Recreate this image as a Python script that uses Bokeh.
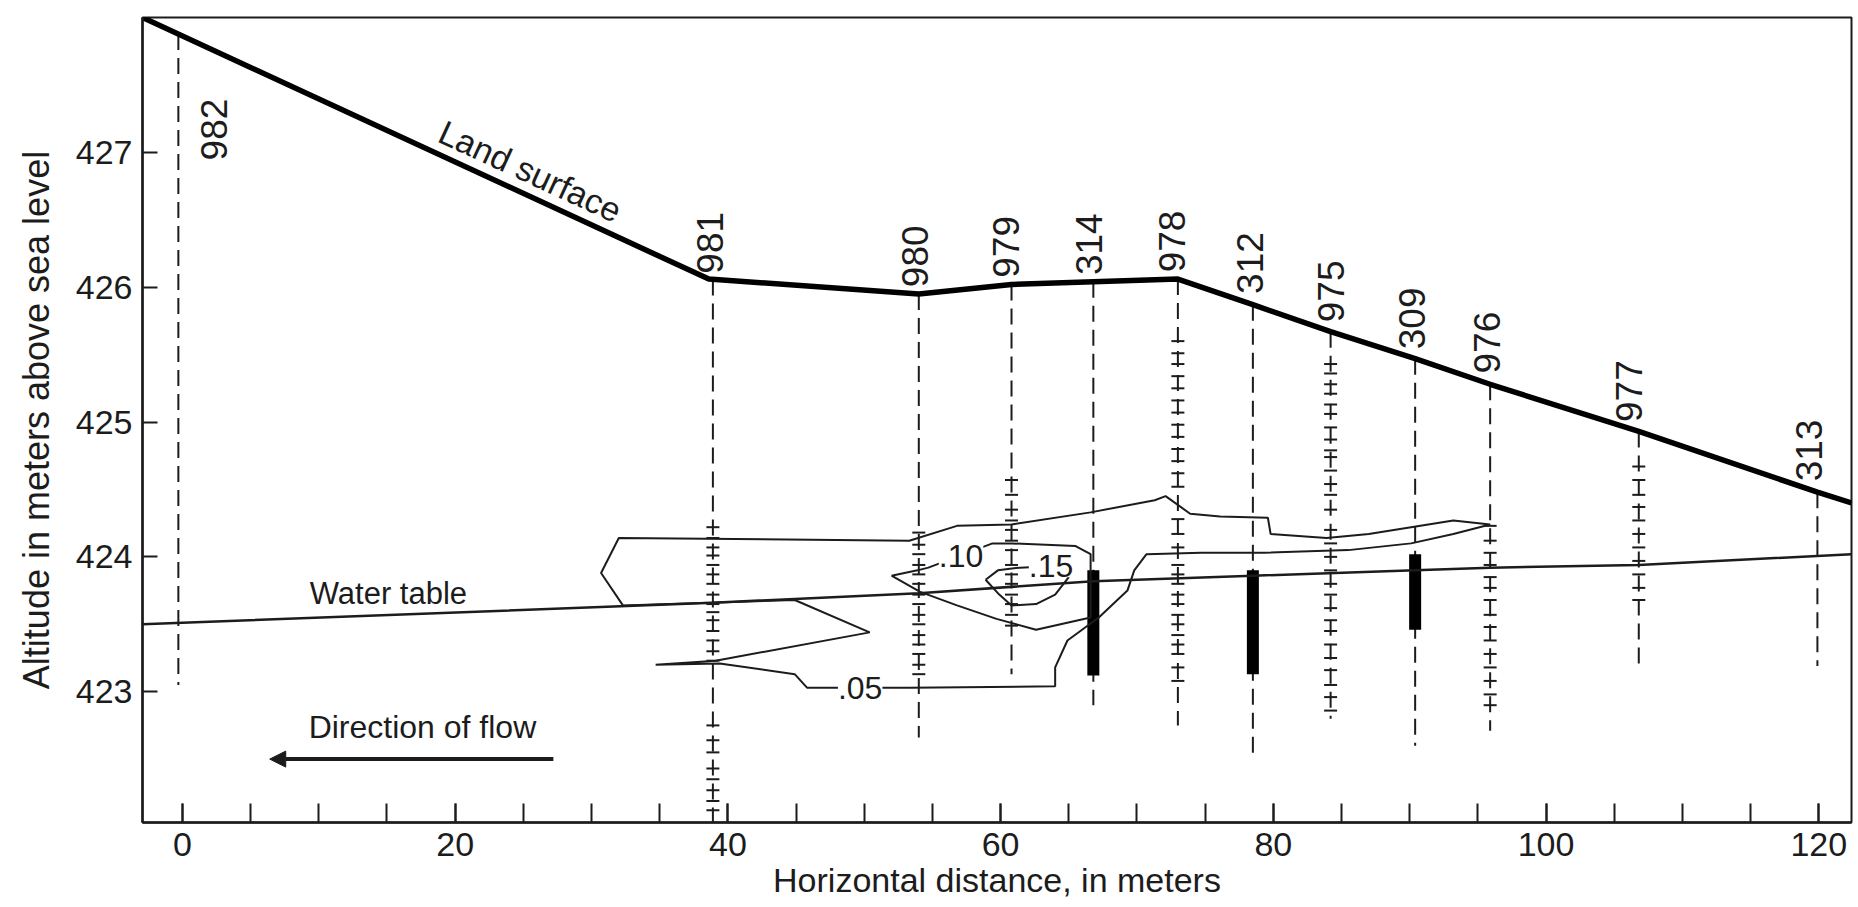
import numpy as np
from bokeh.plotting import figure
from bokeh.models import Range1d, FixedTicker, Label, Arrow, NormalHead, ColumnDataSource
from bokeh.core.properties import value
from bokeh.embed import file_html
from bokeh.resources import INLINE

FONT = "Liberation Sans"
INK = "#1c1c1c"

# ---------------- data ----------------
x_ticks = [0, 20, 40, 60, 80, 100, 120]
x_minor = [0, 5, 10, 15, 20, 25, 30, 35, 40, 45, 50, 55, 60, 65, 70, 75, 80, 85, 90, 95, 100, 105, 110, 115, 120]
y_ticks = [423, 424, 425, 426, 427]

# land surface profile (m, altitude)
land_x = [-2.93, 38.6, 54.0, 60.8, 66.8, 73.0, 78.5, 84.2, 90.4, 95.9, 106.8, 119.9, 122.4]
land_y = [428.0, 426.06, 425.95, 426.02, 426.04, 426.06, 425.87, 425.67, 425.47, 425.28, 424.93, 424.48, 424.40]

# water table
wt_x = [-2.93, 38.9, 54.0, 66.8, 78.5, 90.4, 95.9, 106.8, 122.4]
wt_y = [423.50, 423.66, 423.73, 423.82, 423.86, 423.90, 423.92, 423.94, 424.02]

# wells
well_names = ["982", "981", "980", "979", "314", "978", "312", "975", "309", "976", "977", "313"]
well_x = [-0.3, 38.9, 54.0, 60.8, 66.8, 73.0, 78.5, 84.2, 90.4, 95.9, 106.8, 119.9]
well_bottom = [423.05, 422.03, 422.66, 423.13, 422.90, 422.75, 422.52, 422.80, 422.60, 422.71, 423.18, 423.19]
label_x = [2.3, 38.7, 53.7, 60.4, 66.5, 72.6, 78.3, 84.2, 90.2, 95.7, 106.1, 119.3]
label_base = [426.94, 426.10, 426.00, 426.07, 426.09, 426.11, 425.95, 425.74, 425.54, 425.36, 425.00, 424.56]

# multilevel sampling points (altitudes) per well
samp_981 = [424.22, 424.14, 424.07, 424.01, 423.94, 423.87, 423.80, 423.72, 423.65, 423.59,
            423.53, 423.45, 423.38, 423.30, 423.23, 422.75, 422.64, 422.55, 422.43, 422.35,
            422.27, 422.19, 422.12]
samp_980 = [424.18, 424.09, 424.02, 423.94, 423.87, 423.80, 423.72, 423.65, 423.57, 423.50,
            423.42, 423.35, 423.28, 423.20, 423.13]
samp_979 = [424.57, 424.46, 424.35, 424.27, 424.20, 424.12, 424.05, 423.94, 423.87, 423.80,
            423.72, 423.65, 423.57, 423.49]
samp_978 = [425.60, 425.51, 425.43, 425.34, 425.25, 425.16, 425.07, 424.98, 424.89, 424.80,
            424.71, 424.62, 424.52, 424.28, 424.17, 424.07, 423.94, 423.87, 423.80, 423.72,
            423.65, 423.57, 423.50, 423.42, 423.35, 423.28, 423.18, 423.08]
samp_975 = [425.43, 425.36, 425.28, 425.21, 425.13, 425.06, 424.96, 424.87, 424.79, 424.74,
            424.64, 424.54, 424.46, 424.35, 424.20, 424.10, 424.00, 423.90, 423.80, 423.72,
            423.62, 423.53, 423.45, 423.35, 423.25, 423.16, 423.05, 422.96, 422.86]
samp_976 = [424.23, 424.12, 424.03, 423.94, 423.85, 423.77, 423.68, 423.57, 423.48, 423.38,
            423.28, 423.18, 423.08, 422.98, 422.90]
samp_977 = [424.67, 424.57, 424.46, 424.37, 424.27, 424.17, 424.07, 423.97, 423.87, 423.77, 423.68]

# screened intervals (thick bars)
bar_x = [66.8, 78.5, 90.4]
bar_top = [423.90, 423.90, 424.02]
bar_bottom = [423.12, 423.13, 423.46]

# concentration contours
c05_x = [34.7, 39.1, 50.4, 44.9, 32.3, 30.7, 32.0, 53.3, 56.8, 60.8, 66.6, 71.3, 72.1, 73.9,
         76.1, 79.6, 79.8, 83.9, 87.0, 90.1, 93.2, 95.9, 93.2, 90.1, 85.5, 79.3, 74.7, 70.7,
         69.8, 69.3, 67.2, 64.9, 64.0, 64.0, 53.3, 45.8, 44.9, 39.4, 34.7]
c05_y = [423.20, 423.23, 423.44, 423.68, 423.64, 423.88, 424.14, 424.12, 424.23, 424.24,
         424.33, 424.42, 424.45, 424.32, 424.30, 424.29, 424.17, 424.14, 424.17, 424.22,
         424.27, 424.24, 424.17, 424.10, 424.05, 424.03, 424.03, 424.02, 423.90, 423.75,
         423.55, 423.38, 423.18, 423.04, 423.03, 423.03, 423.13, 423.21, 423.20]
c10_x = [52.0, 53.9, 54.7, 59.4, 60.8, 65.5, 66.6, 66.6, 62.6, 59.7, 56.8, 54.1, 52.0]
c10_y = [423.86, 423.90, 423.92, 424.10, 424.10, 424.08, 424.02, 423.55, 423.46, 423.54,
         423.64, 423.74, 423.86]
c15_x = [58.9, 59.8, 61.4, 63.7, 65.0, 64.0, 62.6, 60.8, 59.9, 58.9]
c15_y = [423.83, 423.90, 423.92, 423.93, 423.85, 423.72, 423.65, 423.64, 423.72, 423.83]
contour_labels = [".05", ".10", ".15"]
contour_label_x = [49.7, 57.1, 63.7]
contour_label_y = [423.03, 424.01, 423.93]

# annotations
water_label_xy = [15.1, 423.73]
flow_label_xy = [17.6, 422.74]
flow_arrow_x = [27.2, 6.4]
flow_arrow_y = [422.50, 422.50]
land_label_xy = [25.5, 426.86]

# ---------------- figure ----------------
FRAME_W, FRAME_H = 1709, 805
x_range = Range1d(-2.93, 122.4)
y_range = Range1d(422.03, 428.0)
p = figure(width=1855, height=906, output_backend="svg", toolbar_location=None,
           x_range=x_range, y_range=y_range,
           min_border_left=142, min_border_right=4, min_border_top=17, min_border_bottom=84)
p.grid.visible = False
p.outline_line_color = INK
p.outline_line_width = 2
p.background_fill_color = "white"
p.border_fill_color = "white"

xa = p.xaxis[0]
xa.ticker = FixedTicker(ticks=x_ticks, minor_ticks=x_minor)
xa.axis_label = "Horizontal distance, in meters"
xa.major_tick_in = 19
xa.major_tick_out = 0
xa.minor_tick_in = 19
xa.minor_tick_out = 0
xa.major_label_standoff = 10
xa.axis_label_standoff = 2

ya = p.yaxis[0]
ya.ticker = FixedTicker(ticks=y_ticks, minor_ticks=[])
ya.axis_label = "Altitude in meters above sea level"
ya.major_tick_in = 15
ya.major_tick_out = 0
ya.minor_tick_in = 0
ya.minor_tick_out = 0
ya.major_label_standoff = 10
ya.axis_label_standoff = 16

for ax in (xa, ya):
    ax.axis_line_color = INK
    ax.axis_line_width = 2.5
    ax.major_tick_line_color = INK
    ax.major_tick_line_width = 2
    ax.minor_tick_line_color = INK
    ax.minor_tick_line_width = 2
    ax.major_label_text_font = FONT
    ax.major_label_text_font_size = "34px"
    ax.major_label_text_color = INK
    ax.axis_label_text_font = FONT
    ax.axis_label_text_font_style = "normal"
    ax.axis_label_text_color = INK
xa.axis_label_text_font_size = "34px"
ya.axis_label_text_font_size = "36px"

# wells (dashed)
well_top = list(np.interp(well_x, land_x, land_y))
p.segment(x0=well_x, y0=well_top, x1=well_x, y1=well_bottom,
          line_color=INK, line_width=2, line_dash="16 8")

# sampling points
samp_sets = [(38.9, samp_981), (54.0, samp_980), (60.8, samp_979), (73.0, samp_978),
             (84.2, samp_975), (95.9, samp_976), (106.8, samp_977)]
sx, sy = [], []
for wx, vals in samp_sets:
    sx += [wx] * len(vals)
    sy += vals
p.scatter(x=sx, y=sy, marker="dash", size=13, line_color=INK, line_width=2)

# screened intervals
p.segment(x0=bar_x, y0=bar_top, x1=bar_x, y1=bar_bottom,
          line_color="black", line_width=12, line_cap="butt")

# water table and land surface
p.line(wt_x, wt_y, line_color=INK, line_width=2.5)
p.line(land_x, land_y, line_color="black", line_width=5.5)

# contours
for cx, cy in ((c05_x, c05_y), (c10_x, c10_y), (c15_x, c15_y)):
    p.line(cx, cy, line_color=INK, line_width=2)

for t, lx, ly in zip(contour_labels, contour_label_x, contour_label_y):
    p.add_layout(Label(x=lx, y=ly, text=t, text_align="center", text_baseline="middle",
                       text_font=FONT, text_font_size="32px", text_color=INK,
                       background_fill_color="white", background_fill_alpha=1.0))

# station labels (rotated)
src = ColumnDataSource(dict(x=label_x, y=label_base, t=well_names))
p.text(x="x", y="y", text="t", source=src, angle=np.pi / 2, text_align="left",
       text_baseline="middle", text_font=value(FONT), text_font_size="37px", text_color=INK)

# text annotations
p.add_layout(Label(x=water_label_xy[0], y=water_label_xy[1], text="Water table",
                   text_align="center", text_baseline="alphabetic",
                   text_font=FONT, text_font_size="31px", text_color=INK))
p.add_layout(Label(x=flow_label_xy[0], y=flow_label_xy[1], text="Direction of flow",
                   text_align="center", text_baseline="alphabetic",
                   text_font=FONT, text_font_size="32px", text_color=INK))

# rotated "Land surface" along the slope
px_per_x = FRAME_W / (x_range.end - x_range.start)
px_per_y = FRAME_H / (y_range.end - y_range.start)
slope = (land_y[1] - land_y[0]) / (land_x[1] - land_x[0])
ang = np.arctan(slope * px_per_y / px_per_x)
p.add_layout(Label(x=land_label_xy[0], y=land_label_xy[1], text="Land surface", angle=ang,
                   text_align="center", text_baseline="middle",
                   text_font=FONT, text_font_size="34px", text_color=INK))

# flow arrow
p.add_layout(Arrow(end=NormalHead(size=16, fill_color=INK, line_color=INK),
                   x_start=flow_arrow_x[0], y_start=flow_arrow_y[0],
                   x_end=flow_arrow_x[1], y_end=flow_arrow_y[1],
                   line_color=INK, line_width=4))

open("out.html", "w").write(file_html(p, INLINE))
